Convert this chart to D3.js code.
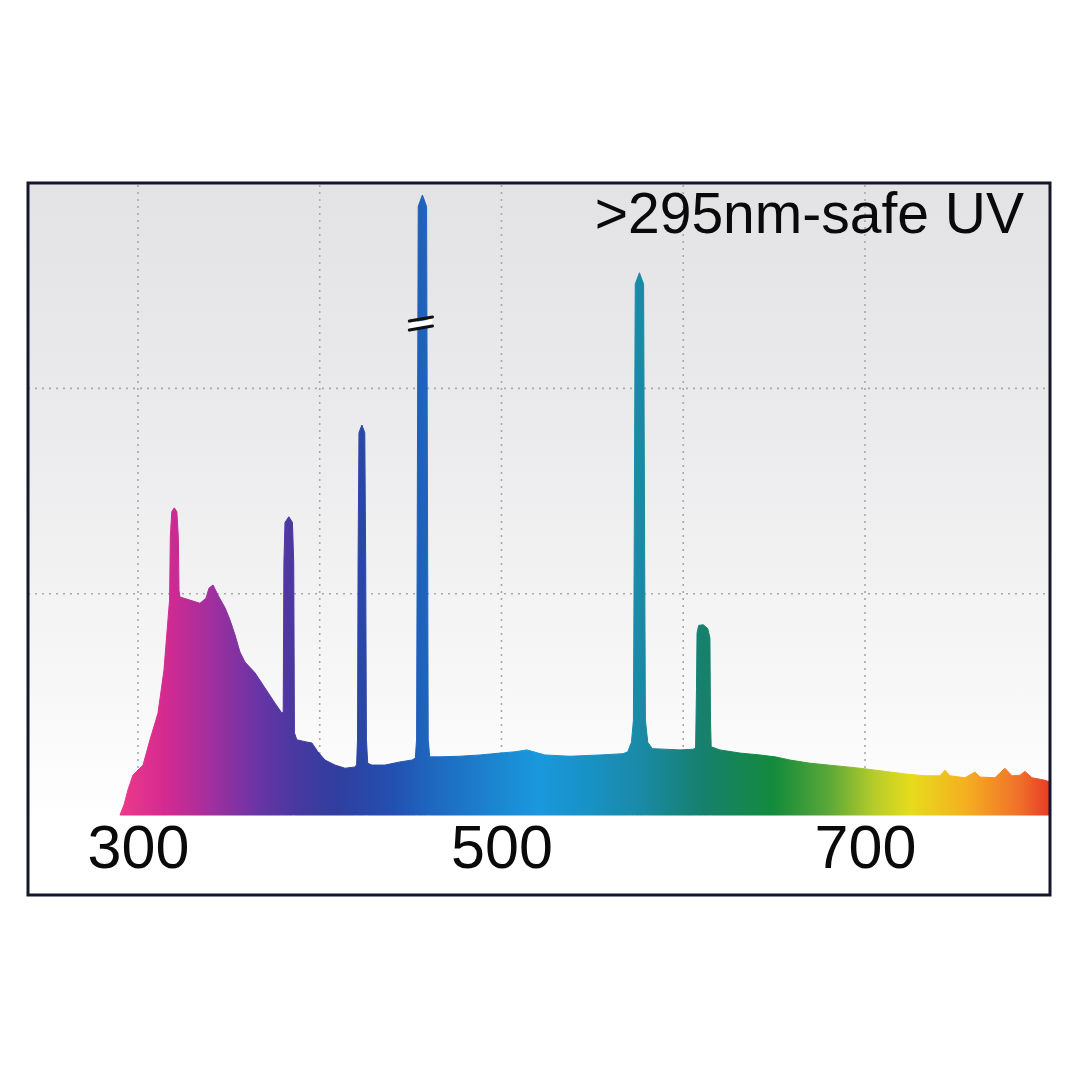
<!DOCTYPE html>
<html><head><meta charset="utf-8">
<script src="https://cdn.jsdelivr.net/npm/d3@7"></script>
<style>html,body{margin:0;padding:0;background:#fff;}svg{display:block;}</style>
</head><body>
<script>
// ---- data ----
const title = ">295nm-safe UV";
const xTickValues = [300, 500, 700];
const xGridValues = [300, 400, 500, 600, 700];
const yGridValues = [35, 67.5];
// wavelength (nm) of each sample
const wavelengths = [
 290.1,292.3,294.5,297.2,302.8,306.6,311.0,314.3,316.5,
 317.4,317.8,318.6,320.0,321.4,322.2,322.6,
 323.1,328.6,334.1,337.4,339.1,341.3,344.0,347.9,350.6,353.4,356.1,358.9,364.4,369.9,375.4,379.0,
 379.9,380.3,380.9,383.0,385.0,385.7,386.1,
 387.4,391.9,395.7,399.0,402.9,408.4,413.9,419.5,
 420.3,420.8,421.1,421.6,423.2,424.8,425.3,425.7,426.4,
 428.7,435.9,444.2,450.8,
 452.6,453.3,453.6,454.2,456.5,458.8,459.4,459.7,460.5,
 466.2,477.2,488.2,499.2,507.4,514.0,523.9,537.7,554.2,566.9,
 569.5,571.5,572.6,573.0,573.6,575.9,578.2,578.8,579.2,580.5,583.0,
 598.2,605.4,
 606.8,607.3,607.6,608.5,611.0,613.5,614.7,615.0,615.4,
 620.2,631.2,642.2,650.5,658.7,669.7,683.5,697.2,708.3,722.0,733.0,741.3,744.0,746.8,755.0,760.5,763.3,771.5,777.0,780.9,785.3,788.0,791.9,799.0,801.8
];
// relative intensity of each sample
const intensities = [
 0,1.6,4.0,6.3,7.9,11.9,16.1,22.9,30.9,
 34.0,44.0,48.0,48.6,48.0,44.0,35.5,
 34.5,34.0,33.5,34.3,35.9,36.4,34.8,32.8,30.9,28.5,25.8,24.2,22.5,20.1,17.7,16.2,
 16.2,40.0,46.3,47.2,46.3,40.0,13.0,
 11.9,11.6,11.4,10.0,8.7,7.9,7.4,7.6,
 8.0,12.0,40.0,60.5,61.7,60.5,40.0,12.0,8.2,
 7.9,7.9,8.4,8.7,
 9.0,12.0,40.0,96.3,98.1,96.3,40.0,12.0,9.2,
 9.2,9.3,9.5,9.8,10.0,10.3,9.5,9.3,9.5,9.7,
 10.0,11.5,15.0,40.0,84.0,85.8,84.0,40.0,15.0,11.5,10.5,
 10.3,10.4,
 10.6,20.0,28.8,30.0,30.1,29.5,28.0,15.0,10.8,
 10.3,9.8,9.5,9.2,8.7,8.2,7.8,7.4,7.0,6.5,6.2,6.2,7.1,6.2,5.9,6.8,6.0,5.9,7.4,6.2,6.3,6.9,5.9,5.5,5.2
];
// spectrum colour stops (nm -> colour)
const stopNm = [290,315,340,365,385,410,440,460,500,520,545,575,610,650,680,705,725,755,785,802];
const stopColors = ["#ec3a8c","#d42a90","#a22f9e","#6b34a6","#4a38a0","#2f3f9f","#2350b0","#1e66bd","#1b88d2","#1a98dd","#1892c8","#1a8aa8","#17806e","#138a3c","#5aa838","#b6cc2a","#e6dc1c","#f5b020","#f0702a","#e83a25"];
const breakPeakNm = 456.5, breakValue = 78;

// ---- layout ----
const W = 1080, H = 1080;
const frame = {l: 28, t: 183, r: 1050, b: 895};
const baseY = 815;

const svg = d3.select("body").append("svg").attr("width", W).attr("height", H);
const defs = svg.append("defs");

const x = d3.scaleLinear().domain([239.5, 801.8]).range([frame.l, frame.r]);
const y = d3.scaleLinear().domain([0, 100]).range([baseY, frame.t]);

// background gradient
const bg = defs.append("linearGradient").attr("id", "bg").attr("x1", 0).attr("y1", 0).attr("x2", 0).attr("y2", 1);
[[0,"#e3e3e6"],[0.35,"#ebebed"],[0.7,"#f7f7f7"],[0.9,"#ffffff"],[1,"#ffffff"]].forEach(s =>
  bg.append("stop").attr("offset", s[0]).attr("stop-color", s[1]));
svg.append("rect").attr("x", frame.l).attr("y", frame.t)
  .attr("width", frame.r - frame.l).attr("height", frame.b - frame.t).attr("fill", "url(#bg)");

// grid
const grid = svg.append("g").attr("stroke", "#a9a9ad").attr("stroke-width", 1.6).attr("stroke-dasharray", "2,5");
grid.selectAll("line.v").data(xGridValues).join("line").attr("class", "v")
  .attr("x1", d => x(d)).attr("x2", d => x(d)).attr("y1", frame.t + 2).attr("y2", baseY);
grid.selectAll("line.h").data(yGridValues).join("line").attr("class", "h")
  .attr("x1", frame.l).attr("x2", frame.r).attr("y1", d => y(d)).attr("y2", d => y(d));

// spectrum gradient
const sg = defs.append("linearGradient").attr("id", "spec").attr("gradientUnits", "userSpaceOnUse")
  .attr("x1", x(stopNm[0])).attr("x2", x(stopNm[stopNm.length - 1])).attr("y1", 0).attr("y2", 0);
const span = stopNm[stopNm.length - 1] - stopNm[0];
stopNm.forEach((n, i) => sg.append("stop").attr("offset", (n - stopNm[0]) / span).attr("stop-color", stopColors[i]));

const pts = wavelengths.map((w, i) => [w, intensities[i]]);
const area = d3.area().x(d => x(d[0])).y0(y(0)).y1(d => y(d[1])).curve(d3.curveLinear);
svg.append("path").datum(pts).attr("d", area).attr("fill", "url(#spec)")
  .attr("stroke", "url(#spec)").attr("stroke-width", 1).attr("stroke-linejoin", "round");

// break mark on the tallest line
const bx = x(breakPeakNm), by = y(breakValue);
svg.append("path")
  .attr("d", `M${bx-13},${by+1} L${bx+10},${by-3} L${bx+10},${by+3} L${bx-13},${by+7} Z`)
  .attr("fill", "#ffffff");
const bm = svg.append("g").attr("stroke", "#111").attr("stroke-width", 3.2).attr("stroke-linecap", "round");
bm.append("line").attr("x1", bx - 13).attr("y1", by - 1).attr("x2", bx + 10).attr("y2", by - 5);
bm.append("line").attr("x1", bx - 13).attr("y1", by + 8).attr("x2", bx + 10).attr("y2", by + 4);

// axis labels
const ax = svg.append("g").attr("transform", `translate(0,${baseY})`)
  .call(d3.axisBottom(x).tickValues(xTickValues).tickSize(0).tickFormat(d3.format("d")));
ax.select(".domain").remove();
ax.selectAll("text").attr("dy", null).attr("y", 53)
  .attr("font-family", "'Liberation Sans', Arial, sans-serif").attr("font-size", 61).attr("fill", "#0a0a0a");

// title
svg.append("text").attr("x", 1024).attr("y", 233).attr("text-anchor", "end")
  .attr("font-family", "'Liberation Sans', Arial, sans-serif").attr("font-size", 57).attr("fill", "#0a0a0a")
  .text(title);

// frame
svg.append("rect").attr("x", frame.l).attr("y", frame.t)
  .attr("width", frame.r - frame.l).attr("height", frame.b - frame.t)
  .attr("fill", "none").attr("stroke", "#16162a").attr("stroke-width", 3);
</script>
</body></html>
